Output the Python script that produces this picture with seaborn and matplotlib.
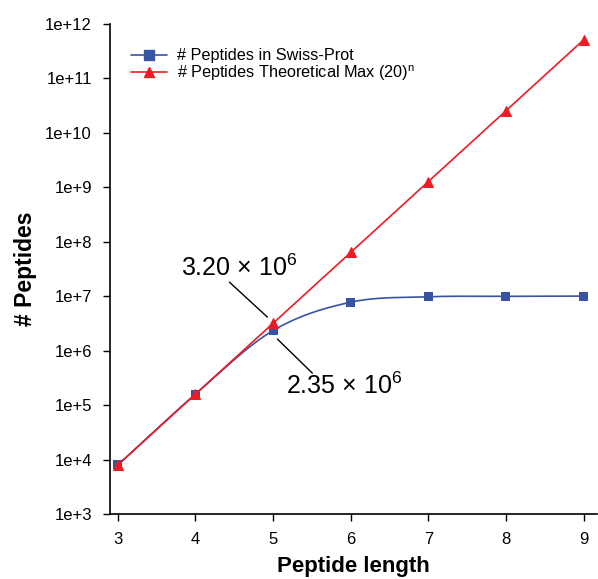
import numpy as np
import pandas as pd
import matplotlib
matplotlib.use('Agg')
import matplotlib.pyplot as plt
from matplotlib.lines import Line2D
import seaborn as sns

# values
peptide_length = [3, 4, 5, 6, 7, 8, 9]
swissprot = [8.0e3, 1.6e5, 2.35e6, 7.8e6, 9.8e6, 1.0e7, 1.01e7]
theoretical = [8.0e3, 1.6e5, 3.2e6, 6.4e7, 1.28e9, 2.56e10, 5.12e11]
y_ticks = [10.0 ** k for k in range(3, 13)]
y_tick_labels = ['1e+%d' % k for k in range(3, 13)]

blue = '#3953a4'
red = '#ed1c24'

sns.set_style('ticks')
plt.rcParams['font.family'] = ['Liberation Sans', 'DejaVu Sans']
plt.rcParams['text.color'] = 'black'
plt.rcParams['axes.labelcolor'] = 'black'
plt.rcParams['mathtext.fontset'] = 'custom'
plt.rcParams['mathtext.rm'] = 'Liberation Sans'
plt.rcParams['mathtext.it'] = 'Liberation Sans'


def smooth(xs, ys, n=30):
    # catmull-rom curve through the points (in log space) for drawing only
    xs = np.asarray(xs, float)
    ys = np.log10(np.asarray(ys, float))
    px = np.concatenate([[2 * xs[0] - xs[1]], xs, [2 * xs[-1] - xs[-2]]])
    py = np.concatenate([[2 * ys[0] - ys[1]], ys, [2 * ys[-1] - ys[-2]]])
    ox, oy = [], []
    for i in range(1, len(px) - 2):
        t = np.linspace(0, 1, n, endpoint=False)
        for p, out in ((px, ox), (py, oy)):
            p0, p1, p2, p3 = p[i - 1], p[i], p[i + 1], p[i + 2]
            out.extend(0.5 * ((2 * p1) + (-p0 + p2) * t
                              + (2 * p0 - 5 * p1 + 4 * p2 - p3) * t ** 2
                              + (-p0 + 3 * p1 - 3 * p2 + p3) * t ** 3))
    ox.append(xs[-1])
    oy.append(ys[-1])
    return np.array(ox), 10 ** np.array(oy)


df = pd.DataFrame({'length': peptide_length, 'swiss': swissprot, 'theo': theoretical})
sx, sy = smooth(peptide_length, swissprot)

fig, ax = plt.subplots(figsize=(5.98, 5.79), dpi=100)
fig.subplots_adjust(left=0.184, right=0.998, bottom=0.112, top=0.9585)

sns.lineplot(x=sx, y=sy, sort=False, estimator=None, color=blue, lw=1.2, ax=ax)
sns.scatterplot(data=df, x='length', y='swiss', marker='s', s=42, color=blue,
                edgecolor='none', ax=ax, zorder=3)
sns.lineplot(data=df, x='length', y='theo', color=red, lw=1.2, marker='^',
             markersize=7, markeredgecolor=red, ax=ax, zorder=4)

ax.set_yscale('log')
ax.set_ylim(1e3, 1e12)
ax.set_xlim(2.9, 9.17)
ax.set_yticks(y_ticks)
ax.set_yticklabels(y_tick_labels)
ax.minorticks_off()
ax.set_xticks(peptide_length)
ax.tick_params(labelsize=12, length=5, width=1, color='black', labelcolor='black')
ax.tick_params(axis='x', pad=8)
ax.tick_params(axis='y', pad=8)
for s in ['left', 'bottom']:
    ax.spines[s].set_color('black')
    ax.spines[s].set_linewidth(1.2)
sns.despine(ax=ax)

ax.set_xlabel('Peptide length', fontsize=16, fontweight='bold', labelpad=6)
ax.set_ylabel('# Peptides', fontsize=16.5, fontweight='bold', labelpad=6)

# leader lines for the two labelled values
ax.annotate('', xy=(4.927, 4.15e6), xytext=(4.438, 1.82e7),
            arrowprops=dict(arrowstyle='-', color='black', lw=1, shrinkA=0, shrinkB=0))
ax.annotate('', xy=(5.056, 1.64e6), xytext=(5.506, 3.88e5),
            arrowprops=dict(arrowstyle='-', color='black', lw=1, shrinkA=0, shrinkB=0))
ax.text(4.56, 3.3e7, '3.20 × 10$^{6}$', fontsize=18, ha='center', va='center')
ax.text(5.92, 2.3e5, '2.35 × 10$^{6}$', fontsize=18, ha='center', va='center')

handles = [
    Line2D([], [], color=blue, lw=1.2, marker='s', markersize=6.5),
    Line2D([], [], color=red, lw=1.2, marker='^', markersize=7.5),
]
labels = ['# Peptides in Swiss-Prot', '# Peptides Theoretical Max (20)$^{n}$']
ax.legend(handles, labels, loc='upper left', bbox_to_anchor=(0.014, 0.98),
          frameon=False, fontsize=11.7, handlelength=2.2, labelspacing=0.0,
          handletextpad=0.6)

fig.savefig('out.png', dpi=100)
